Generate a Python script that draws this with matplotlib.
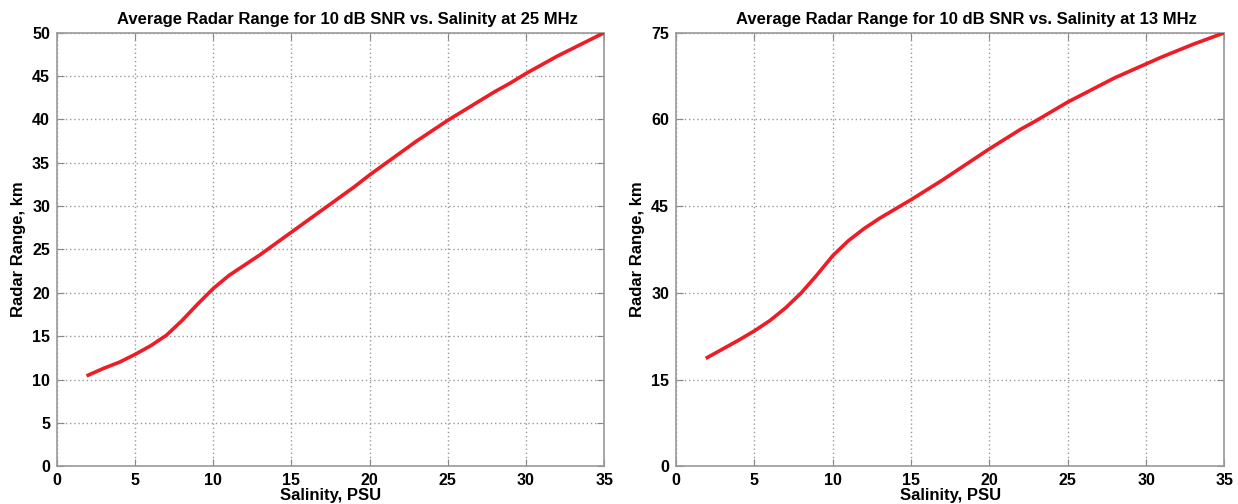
import matplotlib.pyplot as plt

plt.rcParams['font.family'] = ['Liberation Sans', 'DejaVu Sans']
plt.rcParams['font.weight'] = 'bold'

# salinity (PSU) and average radar range (km)
salinity = [2, 3, 4, 5, 6, 7, 8, 9, 10, 11, 12, 13, 14, 15, 16, 17, 18,
            19, 20, 21, 22, 23, 24, 25, 26, 27, 28, 29, 30, 31, 32, 33, 34, 35]
range_25mhz = [10.5, 11.3, 12.0, 12.9, 13.9, 15.1, 16.8, 18.7, 20.5, 22.0,
               23.2, 24.4, 25.7, 27.0, 28.3, 29.6, 30.9, 32.2, 33.6, 34.9,
               36.2, 37.5, 38.7, 39.9, 41.0, 42.1, 43.2, 44.2, 45.3, 46.3,
               47.3, 48.2, 49.1, 50.0]
range_13mhz = [18.8, 20.3, 21.8, 23.4, 25.2, 27.4, 30.0, 33.1, 36.4, 39.0,
               41.1, 42.9, 44.5, 46.1, 47.8, 49.5, 51.3, 53.1, 54.9, 56.6,
               58.3, 59.8, 61.4, 63.0, 64.4, 65.8, 67.2, 68.4, 69.6, 70.8,
               71.9, 73.0, 74.0, 75.0]

titles = ['Average Radar Range for 10 dB SNR vs. Salinity at 25 MHz',
          'Average Radar Range for 10 dB SNR vs. Salinity at 13 MHz']
yticks_list = [list(range(0, 51, 5)), list(range(0, 76, 15))]
xticks = list(range(0, 36, 5))

fig = plt.figure(figsize=(12.38, 5.04), dpi=100)
ax1 = fig.add_axes([0.046, 0.075, 0.442, 0.86])
ax2 = fig.add_axes([0.546, 0.075, 0.443, 0.86])

for ax, y, title, yticks in zip([ax1, ax2], [range_25mhz, range_13mhz],
                                titles, yticks_list):
    ax.plot(salinity, y, color='#ee1c25', linewidth=2.6, zorder=3)
    ax.set_xlim(0, 35)
    ax.set_ylim(yticks[0], yticks[-1])
    ax.set_xticks(xticks)
    ax.set_yticks(yticks)
    ax.grid(True, linestyle=(0, (1, 2)), color='#999999', linewidth=1.0)
    ax.tick_params(direction='in', top=True, right=True, labelsize=11.5,
                   color='#888888', length=5, pad=5)
    for s in ax.spines.values():
        s.set_color('#999999')
        s.set_linewidth(1.2)
    ax.set_title(title, fontsize=12, fontweight='bold', pad=6, x=0.53)
    ax.set_xlabel('Salinity, PSU', fontsize=12, fontweight='bold', labelpad=0)
    ax.set_ylabel('Radar Range, km', fontsize=12, fontweight='bold', labelpad=4)

fig.savefig('out.png', dpi=100)
